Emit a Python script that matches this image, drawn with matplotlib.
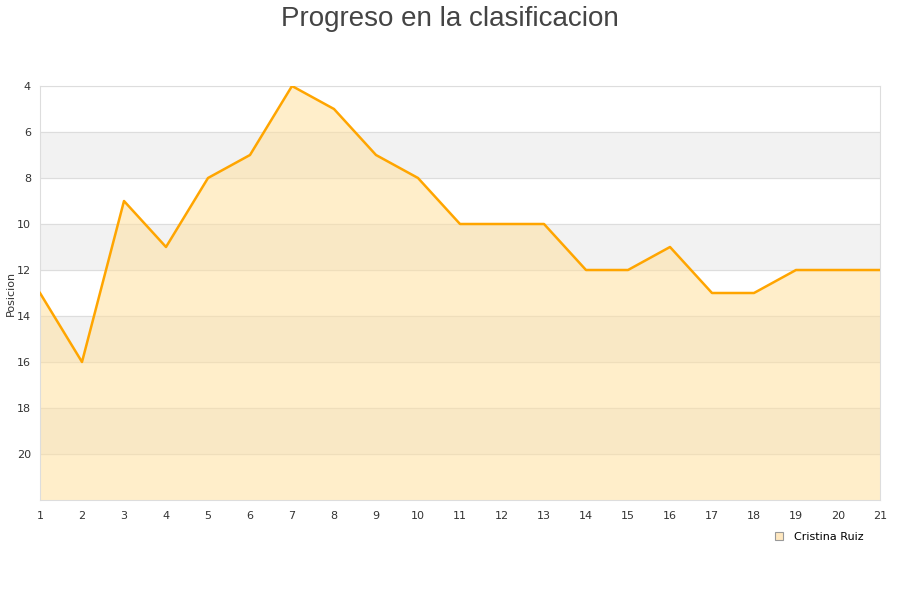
import numpy as np
import matplotlib.pyplot as plt
from matplotlib.patches import Patch

jornadas = list(range(1, 22))
posicion = [13, 16, 9, 11, 8, 7, 4, 5, 7, 8, 10, 10, 10, 12, 12, 11, 13, 13, 12, 12, 12]
y_ticks = [4, 6, 8, 10, 12, 14, 16, 18, 20]
jugador = 'Cristina Ruiz'

fig = plt.figure(figsize=(9, 6), dpi=100)
ax = fig.add_axes([40/900, 1 - 500/600, 840/900, 414/600])

# bandas alternas
for y0 in range(6, 22, 4):
    ax.axhspan(y0, y0 + 2, color='#f2f2f2', zorder=0)
for y in y_ticks:
    ax.axhline(y, color='#dddddd', lw=0.8, zorder=1)

ax.fill_between(jornadas, posicion, 22, color='#ffe0a0', alpha=0.55, lw=0, zorder=2)
ax.plot(jornadas, posicion, color='#ffa500', lw=1.8, zorder=3)

ax.set_xlim(1, 21)
ax.set_ylim(22, 4)
ax.set_xticks(jornadas)
ax.set_yticks(y_ticks)
ax.tick_params(length=0, labelsize=8, colors='#333333')
ax.tick_params(axis='y', pad=6.5)
ax.tick_params(axis='x', pad=8)
for s in ax.spines.values():
    s.set_color('#dddddd')
ax.set_ylabel('Posicion', fontsize=8, color='#333333')
ax.yaxis.set_label_coords(-0.029, 0.5)

fig.text(0.5, 0.99, 'Progreso en la clasificacion', ha='center', va='top', fontsize=20,
         color='#444444', family='Liberation Sans')

leg = fig.legend(handles=[Patch(facecolor='#ffe8c0', edgecolor='#999999', lw=0.8, label=jugador)],
                 loc='center', bbox_to_anchor=(0.91, 0.105), frameon=False, fontsize=8,
                 handlelength=0.7, handleheight=0.7, handletextpad=1.0)

fig.savefig('out.png', dpi=100)
